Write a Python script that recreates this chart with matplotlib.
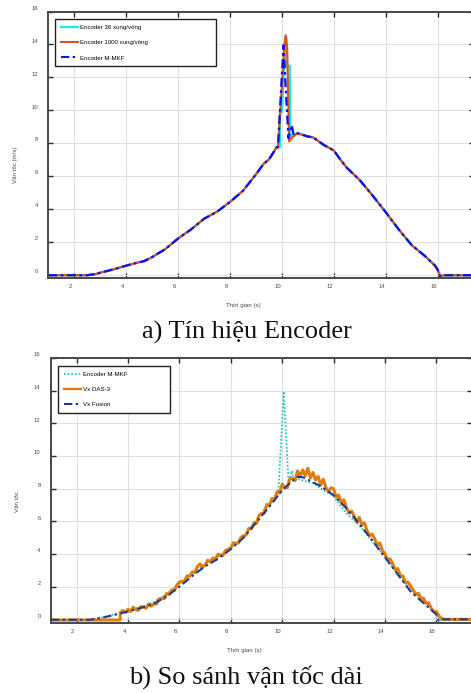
import numpy as np
import matplotlib
matplotlib.use('Agg')
import matplotlib.pyplot as plt
from matplotlib.lines import Line2D
from matplotlib.transforms import ScaledTranslation

# ---------------- data ----------------
x_ticks = [2, 4, 6, 8, 10, 12, 14, 16]
y_ticks = [0, 2, 4, 6, 8, 10, 12, 14, 16]

# shared rising / falling part of the encoder curves (panel a)
t_rise = [1.0, 2.5, 2.8, 3.0, 3.5, 4.0, 4.4, 4.7, 5.0, 5.5, 6.0, 6.5, 7.0,
          7.5, 8.0, 8.5, 9.0, 9.3, 9.5, 9.7, 9.8]
v_rise = [-0.03, -0.03, 0.03, 0.12, 0.32, 0.55, 0.72, 0.83, 1.07, 1.55, 2.2,
          2.75, 3.4, 3.83, 4.42, 5.1, 6.1, 6.75, 7.0, 7.5, 7.75]
t_fall = [10.6, 10.8, 11.0, 11.2, 11.6, 12.0, 12.25, 12.5, 13.0, 13.5, 14.0,
          14.5, 15.0, 15.5, 15.9, 16.0, 16.1, 16.25, 17.4]
v_fall = [8.6, 8.5, 8.4, 8.35, 7.9, 7.55, 7.0, 6.5, 5.75, 4.8, 3.8,
          2.75, 1.8, 1.15, 0.55, 0.3, -0.1, -0.03, -0.03]

# peak segments of each encoder signal
t_peak36 = [9.92, 9.92, 10.0, 10.13, 10.16, 10.17, 10.3, 10.32, 10.45]
v_peak36 = [7.75, 9.9, 9.9, 14.45, 14.45, 12.7, 12.7, 8.4, 8.5]
t_peak1000 = [9.85, 10.1, 10.15, 10.2, 10.28, 10.4]
v_peak1000 = [7.7, 14.0, 14.55, 13.8, 8.1, 8.35]
t_peakmkf = [9.85, 10.06, 10.25, 10.38, 10.45]
v_peakmkf = [7.8, 13.95, 8.3, 9.1, 8.5]

# fused velocity (panel b)
t_fus = [1.0, 2.5, 2.8, 3.0, 3.5, 4.0, 4.5, 5.0, 5.5, 6.0, 6.5, 7.0, 7.5, 8.0,
         8.5, 9.0, 9.5, 10.0, 10.3, 10.6, 10.8, 11.0, 11.5, 12.0, 12.5, 13.0,
         13.5, 14.0, 14.5, 15.0, 15.5, 16.0, 16.1, 16.2, 16.4, 17.4]
v_fus = [-0.03, -0.03, 0.05, 0.1, 0.28, 0.48, 0.7, 0.95, 1.4, 2.0, 2.65, 3.25,
         3.7, 4.3, 5.0, 5.95, 6.9, 7.9, 8.35, 8.72, 8.7, 8.55, 8.15, 7.6, 6.8,
         5.85, 4.85, 3.8, 2.75, 1.7, 1.0, 0.3, -0.1, 0.0, 0.0, 0.0]

# DAS-3 velocity sampled every 0.1 s from 3.7 s to 16.2 s (panel b)
t_das_grid = np.round(np.arange(3.7, 16.25, 0.1), 2)
v_das = [0.42, 0.54, 0.42,
         0.62, 0.48, 0.74, 0.59, 0.55, 0.78, 0.76, 0.68, 0.94, 0.80,
         0.94, 0.94, 1.24, 1.28, 1.26, 1.58, 1.52, 1.80, 1.76, 2.10,
         2.28, 2.32, 2.35, 2.67, 2.64, 2.90, 2.87, 3.24, 3.40, 3.20,
         3.32, 3.62, 3.52, 3.76, 3.67, 3.99, 3.91, 3.93, 4.23, 4.29,
         4.37, 4.69, 4.64, 4.68, 5.03, 5.12, 5.18, 5.57, 5.54, 5.90,
         5.87, 6.37, 6.48, 6.50, 7.03, 6.96, 7.40, 7.33, 7.81, 7.74,
         8.28, 8.07, 8.06, 8.61, 8.64, 8.50, 9.09, 8.78, 9.15, 8.79,
         9.25, 8.65, 8.99, 8.53, 8.75, 8.24, 8.58, 8.07, 7.81, 8.06,
         7.99, 7.50, 7.61, 7.12, 7.32, 6.84, 6.51, 6.63, 6.33, 5.94,
         6.25, 5.78, 5.91, 5.44, 5.12, 5.22, 4.93, 4.55, 4.68, 4.21,
         4.00, 3.66, 3.70, 3.41, 3.04, 3.11, 2.67, 2.65, 2.22, 2.28,
         2.03, 1.80, 1.52, 1.60, 1.29, 1.30, 0.97, 1.02, 0.68, 0.46,
         0.48, 0.22, 0.05]
t_das_pre, v_das_pre = [1.0, 3.69], [-0.04, -0.04]
t_das_post, v_das_post = [16.3, 17.4], [0.0, 0.0]

labels_a = ['Encoder 36 xung/vòng', 'Encoder 1000 xung/vòng', 'Encoder M-MKF']
labels_b = ['Encoder M-MKF', 'Vx DAS-3', 'Vx Fusion']

# ---------------- assemble series ----------------
t36 = t_rise + t_peak36 + t_fall
v36 = v_rise + v_peak36 + v_fall
t1000 = t_rise + t_peak1000 + t_fall
v1000 = v_rise + v_peak1000 + v_fall
tmkf = t_rise + t_peakmkf + t_fall
vmkf = v_rise + v_peakmkf + v_fall
tdas = t_das_pre + list(t_das_grid) + t_das_post
vdas = v_das_pre + v_das + v_das_post

# ---------------- figure ----------------
SANS = ['Liberation Sans', 'DejaVu Sans']
SERIF = ['Liberation Serif', 'DejaVu Serif']
plt.rcParams['font.family'] = SANS

fig = plt.figure(figsize=(4.71, 6.93), dpi=100)
W, H = 471.0, 693.0
ax1 = fig.add_axes([48.3 / W, 1 - 278.0 / H, 425.7 / W, 266.5 / H])
ax2 = fig.add_axes([51.0 / W, 1 - 622.6 / H, 421.3 / W, 264.6 / H])

C_CYAN = '#14ECEC'
C_ORA = '#D9541A'
C_BLUE = '#0A14F0'
C_TEAL = '#2CC6C9'
C_ORA2 = '#E07D0A'
C_NAVY = '#233A92'
DASHDOT = (0, (4.0, 1.6, 1.2, 1.6))


def style(ax):
    ax.set_xlim(1, 17.4)
    ax.set_ylim(-0.2, 16)
    ax.set_xticks(x_ticks)
    ax.set_yticks(y_ticks)
    ax.grid(True, color='#e0e0e0', lw=0.8)
    ax.set_axisbelow(True)
    for s in ax.spines.values():
        s.set_color('#474747')
        s.set_linewidth(1.4)
    ax.tick_params(axis='both', direction='in', length=3.5, width=1.0,
                   color='#2a2a2a', top=True, right=True, labelsize=4.2,
                   labelcolor='#4a4a4a')
    ax.tick_params(axis='y', pad=7.5)
    ax.tick_params(axis='x', pad=4.5)
    up = ScaledTranslation(0, 3.7 / 100, fig.dpi_scale_trans)
    left = ScaledTranslation(-4.0 / 100, 0, fig.dpi_scale_trans)
    for lb in ax.get_yticklabels():
        lb.set_transform(lb.get_transform() + up)
    for lb in ax.get_xticklabels():
        lb.set_transform(lb.get_transform() + left)


style(ax1)
style(ax2)

# panel a
ax1.plot(t36, v36, color=C_CYAN, lw=1.7)
ax1.plot(t1000, v1000, color=C_ORA, lw=1.6)
ax1.plot(tmkf, vmkf, color=C_BLUE, lw=1.6, linestyle=DASHDOT)

h_a = [Line2D([], [], color=C_CYAN, lw=1.6),
       Line2D([], [], color=C_ORA, lw=1.5),
       Line2D([], [], color=C_BLUE, lw=1.5, linestyle=DASHDOT)]
leg1 = ax1.legend(h_a, labels_a, loc='upper left',
                  bbox_to_anchor=(0.0157, 0.7842, 0.378, 0.1865), mode='expand',
                  fontsize=4.4, labelspacing=1.6, borderpad=0.95,
                  handlelength=2.8, handletextpad=0.3, fancybox=False,
                  framealpha=1, edgecolor='#222222', borderaxespad=0)
leg1.get_frame().set_linewidth(1.0)

# panel b
ax2.plot(tmkf, vmkf, color=C_TEAL, lw=1.3, linestyle=(0, (1, 1)))
ax2.plot(tdas, vdas, color=C_ORA2, lw=2.2)
ax2.plot(t_fus, v_fus, color=C_NAVY, lw=1.5, linestyle=DASHDOT)

h_b = [Line2D([], [], color=C_TEAL, lw=1.3, linestyle=(0, (1, 1))),
       Line2D([], [], color=C_ORA2, lw=1.7),
       Line2D([], [], color=C_NAVY, lw=1.5, linestyle=DASHDOT)]
leg2 = ax2.legend(h_b, labels_b, loc='upper left',
                  bbox_to_anchor=(0.0173, 0.7846, 0.2658, 0.1863), mode='expand',
                  fontsize=4.4, labelspacing=1.6, borderpad=0.95,
                  handlelength=2.8, handletextpad=0.3, fancybox=False,
                  framealpha=1, edgecolor='#222222', borderaxespad=0)
leg2.get_frame().set_linewidth(1.0)

# axis labels and captions
lab_kw = dict(fontsize=4.4, color='#4a4a4a', family=SANS)
fig.text(15 / W, 1 - 165 / H, 'Vận tốc (m/s)', rotation=90, ha='center', va='center', **lab_kw)
fig.text(243 / W, 1 - 305 / H, 'Thời gian (s)', ha='center', va='center', **lab_kw)
fig.text(17 / W, 1 - 502 / H, 'Vận tốc', rotation=90, ha='center', va='center', **lab_kw)
fig.text(244 / W, 1 - 650.7 / H, 'Thời gian (s)', ha='center', va='center', **lab_kw)

cap_kw = dict(fontsize=19, color='#111111', family=SERIF, ha='center', va='center')
fig.text(247 / W, 1 - 332 / H, 'a) Tín hiệu Encoder', **cap_kw)
fig.text(246 / W, 1 - 677 / H, 'b) So sánh vận tốc dài', **cap_kw)

fig.savefig('out.png', dpi=100)
